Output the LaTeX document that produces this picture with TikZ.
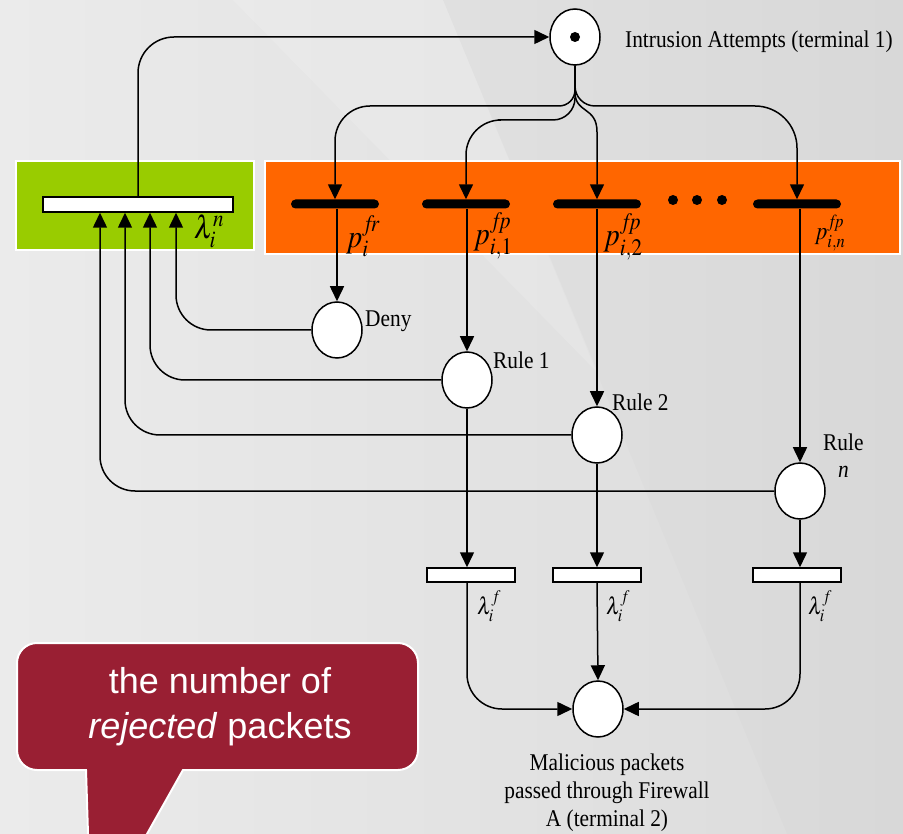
\documentclass[tikz,border=0pt]{standalone}
\usepackage{mathptmx}
\usepackage[no-math]{fontspec}
\setmainfont{Liberation Serif}[FakeStretch=0.89]
\newfontfamily\calloutfont{Liberation Sans}
\usepackage{graphicx}
\usetikzlibrary{arrows.meta,shapes.geometric}
\definecolor{bggreen}{RGB}{153,204,0}
\definecolor{bgorange}{RGB}{255,102,0}
\definecolor{callred}{RGB}{153,31,51}
\begin{document}
\begin{tikzpicture}[x=1pt,y=-1pt,
  place/.style={ellipse,draw,fill=white,line width=1.5pt,minimum width=50pt,minimum height=56pt,inner sep=0pt},
  tbar/.style={rectangle,draw,fill=white,line width=1.5pt,inner sep=0pt,minimum width=88pt,minimum height=14pt},
  ibar/.style={rectangle,fill=black,rounded corners=4.5pt,minimum width=88pt,minimum height=9pt,inner sep=0pt},
  dotnode/.style={circle,fill=black,minimum size=10pt,inner sep=0pt},
  arc/.style={line width=1.5pt,-{Triangle[length=15pt,width=14pt]}},
  lbl/.style={font=\fontsize{24}{28}\selectfont,inner sep=0pt},
  panel/.style={draw=white,line width=2pt,inner sep=0pt}]
\useasboundingbox (0,0) rectangle (903,834);
\shade[left color={rgb,255:red,235;green,235;blue,235},right color={rgb,255:red,219;green,219;blue,219}] (0,0) rectangle (903,834);
\fill[white,opacity=0.15] (233,0) -- (443,0) -- (598,373) -- cycle;
\fill[black,opacity=0.012] (443,0) -- (903,0) -- (903,834) -- (787,834) -- cycle;

% panels
\node[panel,fill=bggreen,minimum width=238pt,minimum height=89pt] (gbox) at (135,205.5) {};
\node[panel,fill=bgorange,minimum width=635pt,minimum height=93pt] (obox) at (582.5,207.5) {};

% places
\node[place] (T1) at (575,37) {};
\node[dotnode] (tok) at (T1) {};
\node[lbl,anchor=base west] (T1l) at (625,48) {Intrusion Attempts (terminal 1)};

\node[place] (Deny) at (337,330) {};
\node[place] (R1) at (467,380) {};
\node[place] (R2) at (597,435) {};
\node[place] (Rn) at (800,491) {};
\node[place] (T2) at (598,709) {};

\node[lbl,anchor=base west] (Denyl) at (365,327) {Deny};
\node[lbl,anchor=base west] (R1l) at (493,369) {Rule 1};
\node[lbl,anchor=base west] (R2l) at (612,411) {Rule 2};
\node[lbl,anchor=base west] (Rnl) at (823,450) {Rule};
\node[lbl,anchor=base west] (Rnn) at (838,477) {\itshape n};
\node[lbl,align=center,anchor=north] (T2l) at (607,754) {Malicious packets\\passed through Firewall\\A (terminal 2)};

% transitions
\node[tbar,minimum width=190pt,minimum height=15pt] (Bn) at (138,204.5) {};
\node[inner sep=0pt] (Bnl) at (209,231) {\fontsize{32}{34}\selectfont\scalebox{0.89}[1]{$\lambda_i^n$}};

\node[ibar] (Bfr) at (335,204) {};
\node[ibar] (B1) at (466,204) {};
\node[ibar] (B2) at (597,204) {};
\node[ibar] (Bnn) at (797,204) {};
\node[dotnode] (d1) at (673,200) {};
\node[dotnode] (d2) at (697,200) {};
\node[dotnode] (d3) at (722,200) {};

\node[inner sep=0pt] (Bfrl) at (363,236) {\fontsize{32}{34}\selectfont\scalebox{0.89}[1]{$p_i^{f\mkern-3mu r}$}};
\node[inner sep=0pt] (B1l) at (493,236) {\fontsize{32}{34}\selectfont\scalebox{0.89}[1]{$p_{i,1}^{f\mkern-3mu p}$}};
\node[inner sep=0pt] (B2l) at (623,237) {\fontsize{32}{34}\selectfont\scalebox{0.89}[1]{$p_{i,2}^{f\mkern-3mu p}$}};
\node[inner sep=0pt] (Bnnl) at (830,233) {\fontsize{25}{28}\selectfont\scalebox{0.89}[1]{$p_{i,n}^{f\mkern-3mu p}$}};

\node[tbar] (F1) at (471,575) {};
\node[tbar] (F2) at (597,575) {};
\node[tbar] (Fn) at (797,575) {};
\node[inner sep=0pt] (F1l) at (489,606) {\fontsize{24}{26}\selectfont\scalebox{0.89}[1]{$\lambda_i^f$}};
\node[inner sep=0pt] (F2l) at (618,606) {\fontsize{24}{26}\selectfont\scalebox{0.89}[1]{$\lambda_i^f$}};
\node[inner sep=0pt] (Fnl) at (820,606) {\fontsize{24}{26}\selectfont\scalebox{0.89}[1]{$\lambda_i^f$}};

% arcs
\draw[arc,rounded corners=36pt] (Bn.north) |- (T1.west);
\draw[arc] (T1.south) [rounded corners=16pt] |- (400,106) [rounded corners=35pt] -| (Bfr.north);
\draw[arc] (T1.south) [rounded corners=22pt] |- (520,120) [rounded corners=35pt] -| (B1.north);
\draw[arc] (T1.south) -- (575,92) .. controls (575,114) and (597,106) .. (597,132) -- (B2.north);
\draw[arc] (T1.south) [rounded corners=20pt] |- (700,106) [rounded corners=42pt] -| (Bnn.north);

\draw[arc] (Deny.north |- Bfr.south) -- (Deny.north);
\draw[arc] (R1.north |- B1.south) -- (R1.north);
\draw[arc] (R2.north |- B2.south) -- (R2.north);
\draw[arc] (Rn.north |- Bnn.south) -- (Rn.north);

\draw[arc,rounded corners=35pt] (Deny.west) -| ([xshift=38pt]Bn.south);
\draw[arc,rounded corners=35pt] (R1.west) -| ([xshift=12pt]Bn.south);
\draw[arc,rounded corners=35pt] (R2.west) -| ([xshift=-13pt]Bn.south);
\draw[arc,rounded corners=35pt] (Rn.west) -| ([xshift=-38pt]Bn.south);

\draw[arc] (R1.south) -- (R1.south |- F1.north);
\draw[arc] (R2.south) -- (F2.north);
\draw[arc] (Rn.south) -- (Rn.south |- Fn.north);

\draw[arc,rounded corners=35pt] (R1.south |- F1.south) |- (T2.west);
\draw[arc] (F2.south) -- (T2.north);
\draw[arc,rounded corners=35pt] (Rn.south |- Fn.south) |- (T2.east);

% callout
\draw[fill=callred,draw=white,line width=2pt] (88.5,850) -- (86,770) [rounded corners=20pt] -- (17,770) -- (17,643) -- (418,643) -- (418,770) [sharp corners] -- (183,770) -- (138,850);
\node[text=white,align=center,font=\calloutfont\fontsize{36}{45}\selectfont,inner sep=0pt] (callt) at (220,707) {the number of\\\textit{rejected} packets};
\end{tikzpicture}
\end{document}
